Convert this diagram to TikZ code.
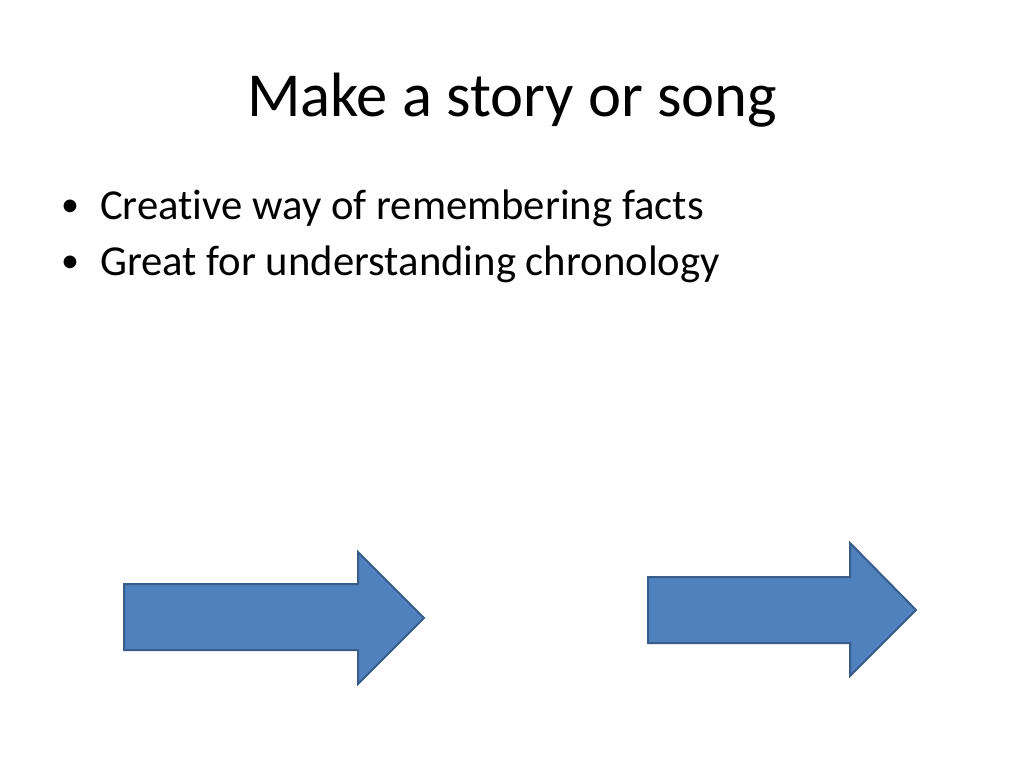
\documentclass[tikz,border=0pt]{standalone}
\usepackage{fontspec}
\setmainfont[Ligatures={NoCommon}]{Carlito}
\definecolor{arrowfill}{HTML}{4F81BD}
\definecolor{arrowline}{HTML}{385D8A}
\begin{document}
\begin{tikzpicture}[x=1pt,y=-1pt,
  blockarrow/.style={fill=arrowfill,draw=arrowline,line width=2pt,line join=miter},
  titletext/.style={font=\fontsize{62.6}{75}\selectfont,anchor=base,inner sep=0pt},
  bullettext/.style={font=\fontsize{42.7}{52}\selectfont,anchor=base west,inner sep=0pt},
  bulletdot/.style={font=\fontsize{36}{40}\selectfont,anchor=base west,inner sep=0pt}]
\useasboundingbox[fill=white] (0,0) rectangle (1024,768);
\node[titletext] (title) at (512,116) {Make a story or song};
\node[bulletdot] (b1dot) at (61,216) {•};
\node[bullettext] (b1) at (100,219.5) {Creative way of remembering facts};
\node[bulletdot] (b2dot) at (61,272) {•};
\node[bullettext] (b2) at (100,275.5) {Great for understanding chronology};
\draw[blockarrow] (124,584) -- (358,584) -- (358,552) -- (424,618) -- (358,684) -- (358,650) -- (124,650) -- cycle;
\draw[blockarrow] (648,577) -- (850,577) -- (850,543) -- (916,610) -- (850,676) -- (850,643) -- (648,643) -- cycle;
\end{tikzpicture}
\end{document}
